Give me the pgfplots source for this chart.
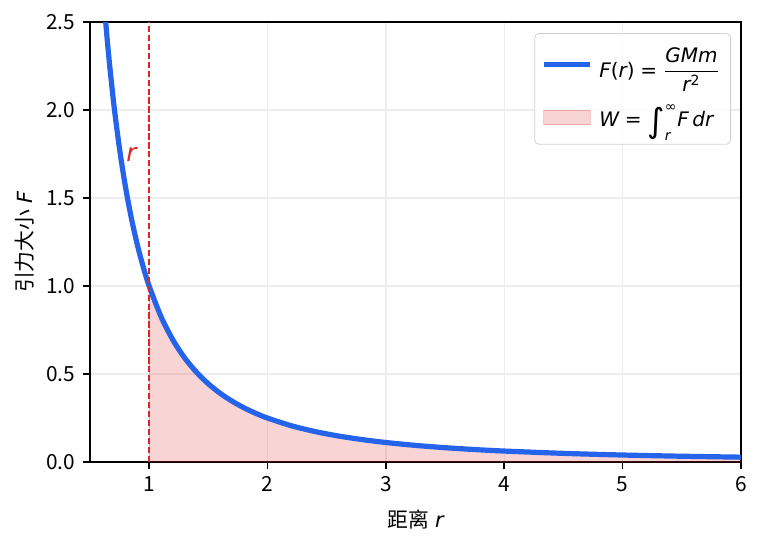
\documentclass[border=0pt]{standalone}
\usepackage{amsmath}
\usepackage{fontspec}
\usepackage{pgfplots}
\pgfplotsset{compat=1.18}
\usetikzlibrary{calc}
\setmainfont{Noto Sans CJK SC}
\newfontfamily\dv{DejaVu Sans}
\newcommand{\vi}[1]{\text{\dv\itshape #1}}
\newcommand{\vu}[1]{\text{\dv #1}}
\newcommand{\bigint}{\raisebox{-0.22\height}{\dv\fontsize{16}{16}\selectfont ∫}}
\definecolor{curveblue}{HTML}{2563EB}
\definecolor{areared}{HTML}{DC2626}
\pgfplotsset{
    rectkey/.style={legend image code/.code={\draw[##1, sharp corners] (0pt,-3.5pt) rectangle (22.5pt,3.5pt);}},
    linekey/.style={legend image code/.code={\draw[##1] (0pt,0pt) -- (22.5pt,0pt);}},
}

\begin{document}
\begin{tikzpicture}
\begin{axis}[
    scale only axis,
    width=312.5pt, height=211.2pt,
    xmin=0.5, xmax=6, ymin=0, ymax=2.5,
    xtick={1,2,3,4,5,6},
    ytick={0,0.5,1,1.5,2,2.5},
    xtick pos=lower, ytick pos=left,
    yticklabel style={/pgf/number format/fixed, /pgf/number format/fixed zerofill, /pgf/number format/precision=1},
    /pgf/number format/assume math mode=true,
    ticklabel style={font=\fontsize{10}{12}\selectfont},
    tick align=outside,
    major tick length=3.5pt,
    tick style={black, line width=0.8pt},
    axis line style={black, line width=0.8pt},
    grid=major,
    major grid style={gray!14, line width=0.6pt},
    xlabel={距离\hspace{3pt}{\dv\itshape r}},
    ylabel={引力大小\hspace{3pt}{\dv\itshape F}},
    label style={font=\fontsize{10}{12}\selectfont},
    xlabel style={at={(axis description cs:0.5,-0.1297)}, anchor=center},
    ylabel style={at={(axis description cs:-0.0998,0.5)}, anchor=center},
    reverse legend,
    legend cell align=left,
    legend style={at={(1,1)}, anchor=north east, xshift=-4.8pt, yshift=-5.3pt,
        draw=gray!35, rounded corners=2pt, fill=white, fill opacity=0.8, text opacity=1,
        font=\fontsize{9.6}{12}\selectfont, row sep=8pt, inner xsep=3pt, inner ysep=5pt,
        /tikz/every odd column/.append style={column sep=1pt}},
]
% shaded work area
\addplot[fill=areared, fill opacity=0.2, draw=areared, draw opacity=0.25, rectkey] coordinates {
    (1.0,1.0) (1.1,0.8264) (1.2,0.6944) (1.3,0.5917) (1.4,0.5102) (1.5,0.4444)
    (1.6,0.3906) (1.7,0.3460) (1.8,0.3086) (1.9,0.2770) (2.0,0.25) (2.2,0.2066)
    (2.4,0.1736) (2.6,0.1479) (2.8,0.1276) (3.0,0.1111) (3.25,0.0947) (3.5,0.0816)
    (3.75,0.0711) (4.0,0.0625) (4.5,0.0494) (5.0,0.04) (5.5,0.0331) (6.0,0.0278)
    (6.0,0) (1.0,0)
} -- cycle;
\addlegendentry{$\vi{W}\mathrel{\vu{=}}\bigint_{\vi{r}}^{\vu{∞}}\vi{F}\,\vi{dr}$}
% force curve
\addplot[curveblue, line width=2.5pt, smooth, linekey] coordinates {
    (0.5,4.0) (0.55,3.3058) (0.6,2.7778) (0.65,2.3669) (0.7,2.0408) (0.75,1.7778)
    (0.8,1.5625) (0.85,1.3841) (0.9,1.2346) (0.95,1.1080) (1.0,1.0) (1.1,0.8264)
    (1.2,0.6944) (1.3,0.5917) (1.4,0.5102) (1.5,0.4444) (1.6,0.3906) (1.7,0.3460)
    (1.8,0.3086) (1.9,0.2770) (2.0,0.25) (2.2,0.2066) (2.4,0.1736) (2.6,0.1479)
    (2.8,0.1276) (3.0,0.1111) (3.25,0.0947) (3.5,0.0816) (3.75,0.0711) (4.0,0.0625)
    (4.5,0.0494) (5.0,0.04) (5.5,0.0331) (6.0,0.0278)
};
\addlegendentry{$\vi{F}\vu{(}\vi{r}\vu{)}\mathrel{\vu{=}}\dfrac{\vi{GMm}}{\vi{r}^{\vu{2}}}$}
% marker at r
\addplot[areared, line width=0.7pt, dash pattern=on 3pt off 1.3pt, forget plot] coordinates {(1,0) (1,2.5)};
\node[text=areared, font=\fontsize{12}{14}\selectfont\dv\itshape] at (axis cs:0.85,1.75) {r};
\end{axis}
\pgfresetboundingbox
\path[use as bounding box] ($(current axis.south west)+(-43.2pt,-39.8pt)$) rectangle ($(current axis.north east)+(9.6pt,10.6pt)$);
\end{tikzpicture}
\end{document}
